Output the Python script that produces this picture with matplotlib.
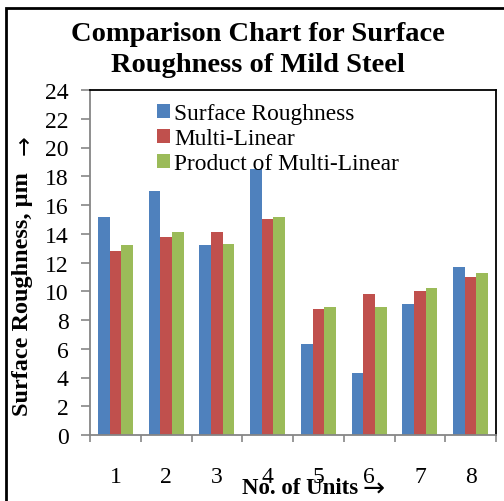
import matplotlib.pyplot as plt
import numpy as np
from matplotlib.patches import Rectangle

plt.rcParams['font.family'] = ['Liberation Serif', 'DejaVu Serif']

units = ['1', '2', '3', '4', '5', '6', '7', '8']
surface_roughness = [15.2, 17.0, 13.2, 18.5, 6.3, 4.3, 9.1, 11.7]
multi_linear = [12.8, 13.8, 14.1, 15.0, 8.8, 9.8, 10.0, 11.0]
product_multi_linear = [13.2, 14.1, 13.3, 15.2, 8.9, 8.9, 10.2, 11.3]

series = [
    ('Surface Roughness', surface_roughness, '#4F81BD'),
    ('Multi-Linear', multi_linear, '#C0504D'),
    ('Product of Multi-Linear', product_multi_linear, '#9BBB59'),
]

W, H = 504, 502
fig = plt.figure(figsize=(W / 100, H / 100), dpi=100)
ax = fig.add_axes([90 / W, 1 - 436 / H, 406 / W, 345 / H])

x = np.arange(len(units))
w = 0.23
for i, (name, vals, col) in enumerate(series):
    ax.bar(x + (i - 1) * w, vals, width=w, color=col, label=name)

ax.set_xlim(-0.5, len(units) - 0.5)
ax.set_ylim(0, 24)
ax.set_yticks(np.arange(0, 25, 2))

# category labels at the centres, tick marks on the boundaries
ax.set_xticks(x)
ax.set_xticklabels(units)
ax.set_xticks(np.arange(len(units) + 1) - 0.5, minor=True)
ax.tick_params(axis='x', which='major', length=0, pad=22, labelsize=17)
ax.tick_params(axis='x', which='minor', length=5, width=1.2, color='#868686', direction='out')
ax.tick_params(axis='y', length=6.5, width=1.2, color='#868686', direction='out', pad=9, labelsize=17)

for side in ['left', 'bottom']:
    ax.spines[side].set_color('#868686')
    ax.spines[side].set_linewidth(1.3)
for side in ['top', 'right']:
    ax.spines[side].set_color('black')
    ax.spines[side].set_linewidth(1.3)

# axis titles, with a thin full-size arrow after each
fig.text(22.5 / W, 1 - 294 / H, 'Surface Roughness, µm', fontsize=17.5, fontweight='bold',
         rotation=90, ha='center', va='center')
fig.text(25 / W, 1 - 145 / H, '→', fontsize=17, family='DejaVu Sans',
         rotation=90, ha='center', va='center')
fig.text(242 / W, 1 - 489 / H, 'No. of Units', fontsize=16.5, fontweight='bold',
         ha='left', va='center')
fig.text(363 / W, 1 - 490 / H, '→', fontsize=19, family='DejaVu Sans',
         ha='left', va='center')

fig.text(258 / W, 1 - 50 / H, 'Comparison Chart for Surface\nRoughness of Mild Steel',
         fontsize=20.5, fontweight='bold', ha='center', va='center', linespacing=1.3)

ax.legend(loc='upper left', bbox_to_anchor=(0.165, 0.962), frameon=False, fontsize=16.8,
          handlelength=0.55, handleheight=0.55, handletextpad=0.2, labelspacing=0.17,
          borderpad=0, borderaxespad=0)

# outer chart frame
fig.patches.append(Rectangle((6 / W, -0.1), 1.2, 1 - 8.5 / H + 0.1, transform=fig.transFigure,
                             fill=False, edgecolor='black', linewidth=2))

fig.savefig('out.png', dpi=100)
